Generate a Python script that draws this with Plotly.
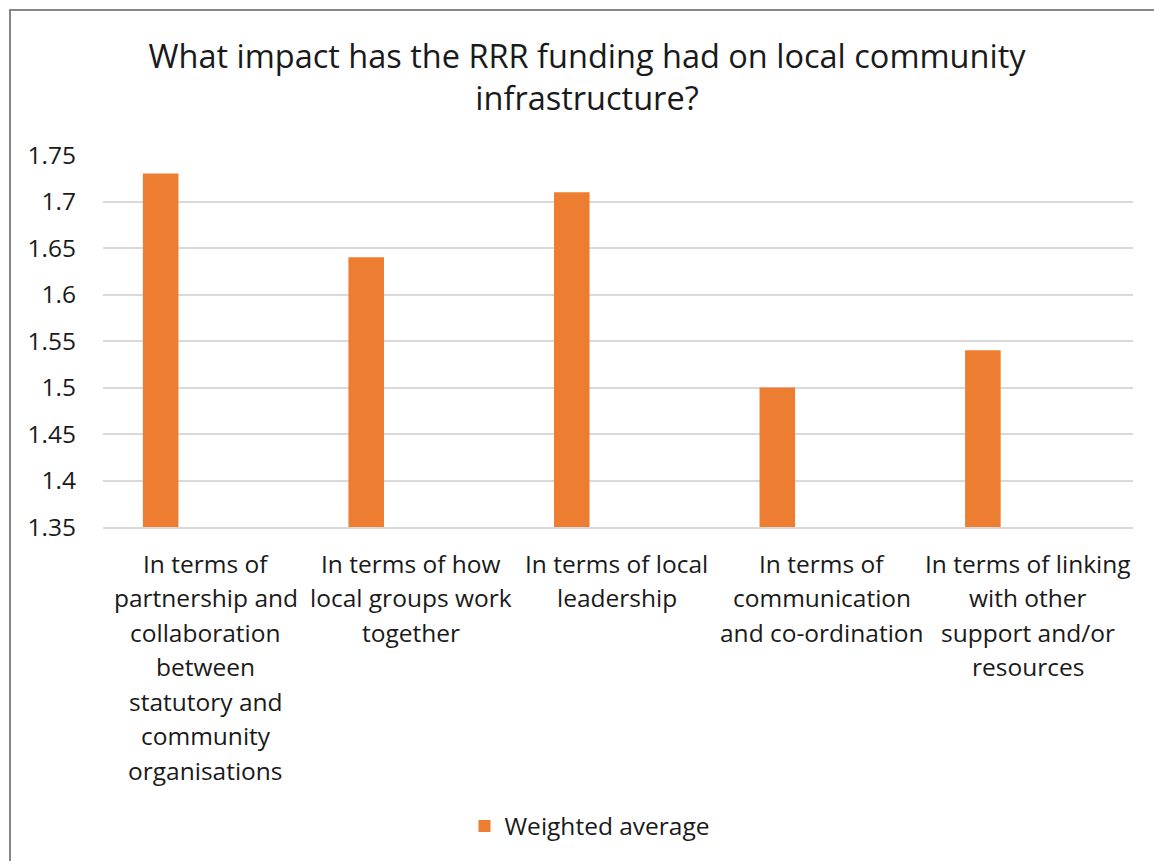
import plotly.graph_objects as go

# Category names, with the line breaks used under each bar
categories = [
    "In terms of partnership and collaboration between statutory and community organisations",
    "In terms of how local groups work together",
    "In terms of local leadership",
    "In terms of communication and co-ordination",
    "In terms of linking with other support and/or resources",
]
category_lines = [
    ["In terms of", "partnership and", "collaboration", "between", "statutory and", "community", "organisations"],
    ["In terms of how", "local groups work", "together"],
    ["In terms of local", "leadership"],
    ["In terms of", "communication", "and co-ordination"],
    ["In terms of linking", "with other", "support and/or", "resources"],
]
weighted_average = [1.73, 1.64, 1.71, 1.50, 1.54]
y_ticks = [1.35, 1.4, 1.45, 1.5, 1.55, 1.6, 1.65, 1.7, 1.75]
y_tick_text = ["1.35", "1.4", "1.45", "1.5", "1.55", "1.6", "1.65", "1.7", "1.75"]

FONT = "Open Sans"
TEXT = "#1a1a1a"
ORANGE = "#ED7D31"
GRID = "#d9d9d9"

fig = go.Figure()
fig.add_trace(go.Bar(
    x=categories,
    y=weighted_average,
    name="Weighted average",
    marker=dict(color=ORANGE, line=dict(width=0)),
    width=0.173,
    offset=-0.306,
))

W, H = 1154, 861
ml, mr, mt, mb = 103, 21, 155, 334
pw, ph = W - ml - mr, H - mt - mb

def px_to_paper_x(px):
    return (px - ml) / pw

def px_to_paper_y(py):
    return (H - mb - py) / ph

# Wrapped category labels below the axis, one line per annotation
LABEL_TOP = 563
LABEL_STEP = 34.5
annotations = []
for cat, lines in zip(categories, category_lines):
    for i, line in enumerate(lines):
        annotations.append(dict(
            x=cat, xref="x",
            y=px_to_paper_y(LABEL_TOP + i * LABEL_STEP), yref="paper",
            text=line, showarrow=False,
            xanchor="center", yanchor="middle",
            font=dict(size=24.5, family=FONT, color=TEXT),
        ))

fig.update_layout(
    width=W, height=H,
    margin=dict(l=ml, r=mr, t=mt, b=mb, pad=0),
    paper_bgcolor="white",
    plot_bgcolor="white",
    font=dict(family=FONT, color=TEXT),
    title=dict(
        text="What impact has the RRR funding had on local community<br>infrastructure?",
        x=px_to_paper_x(587), xref="paper", xanchor="center",
        y=1 - 68 / H, yref="container", yanchor="middle",
        font=dict(size=32.5, family=FONT, color=TEXT),
    ),
    xaxis=dict(
        type="category",
        showgrid=False,
        showline=True, linecolor=GRID, linewidth=1.5,
        ticks="", showticklabels=False,
    ),
    yaxis=dict(
        range=[1.35, 1.75],
        tickvals=y_ticks, ticktext=y_tick_text,
        showgrid=True, gridcolor=GRID, gridwidth=1.5,
        zeroline=False, showline=False, ticks="",
        ticklabelstandoff=26,
        tickfont=dict(size=24.5, family=FONT, color=TEXT),
    ),
    showlegend=True,
    legend=dict(
        orientation="h",
        x=px_to_paper_x(590), xanchor="center",
        y=px_to_paper_y(826), yanchor="middle",
        font=dict(size=24.5, family=FONT, color=TEXT),
        bgcolor="rgba(0,0,0,0)",
    ),
    annotations=annotations,
    shapes=[dict(
        type="rect", xref="paper", yref="paper",
        x0=px_to_paper_x(10), x1=px_to_paper_x(1170),
        y0=px_to_paper_y(880), y1=px_to_paper_y(10),
        line=dict(color="#878787", width=2), fillcolor="rgba(0,0,0,0)",
        layer="below",
    )],
)

fig.write_html("out.html")
